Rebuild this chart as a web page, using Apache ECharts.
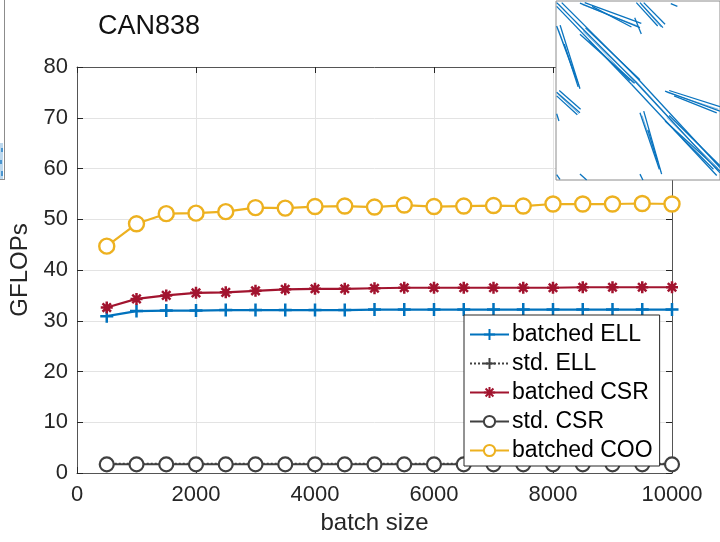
<!DOCTYPE html>
<html>
<head>
<meta charset="utf-8">
<script src="https://cdn.jsdelivr.net/npm/echarts@6/dist/echarts.min.js"></script>
<style>
html,body{margin:0;padding:0;background:#fff;}
#chart{width:720px;height:542px;}
</style>
</head>
<body>
<div id="chart"></div>
<script>
const batchSizes = [500,1000,1500,2000,2500,3000,3500,4000,4500,5000,5500,6000,6500,7000,7500,8000,8500,9000,9500,10000];
const batchedELL = [30.9,31.9,32.0,32.0,32.1,32.1,32.1,32.1,32.1,32.2,32.2,32.2,32.2,32.2,32.2,32.2,32.2,32.2,32.2,32.2];
const stdELL     = [1.8,1.8,1.8,1.8,1.8,1.8,1.8,1.8,1.8,1.8,1.8,1.8,1.8,1.8,1.8,1.8,1.8,1.8,1.8,1.8];
const batchedCSR = [32.6,34.3,35.0,35.5,35.6,35.9,36.2,36.3,36.3,36.4,36.5,36.5,36.5,36.5,36.5,36.5,36.6,36.6,36.6,36.6];
const stdCSR     = [1.7,1.7,1.7,1.7,1.7,1.7,1.7,1.7,1.7,1.7,1.7,1.7,1.7,1.7,1.7,1.7,1.7,1.7,1.7,1.7];
const batchedCOO = [44.7,49.1,51.1,51.2,51.5,52.3,52.2,52.5,52.6,52.4,52.8,52.5,52.6,52.7,52.6,53.0,53.0,53.0,53.1,53.0];
const xTicks = [0,2000,4000,6000,8000,10000];
const yTicks = [0,10,20,30,40,50,60,70,80];

// sparsity pattern inset: segments in normalized matrix coordinates [x1,y1,x2,y2]
const insetSegments = [
  [0.4,0.9,48,44.7],[3.5,0.9,49.5,43],[0.4,3,46,46.5],
  [14.6,1.2,51.2,14.9],[17.5,0.9,52,12.5],[22,3,46,14.5],
  [0.4,14,13,45],[2.5,13.5,14.6,49],[5,24,13.5,48],
  [14.6,18.6,48,46],[18,15,51.2,44],[20,22,45,44.5],
  [51.2,0.9,65.2,14.9],[53.5,0.9,66.5,13],[49,0.9,62,14],[48,9.3,52,18.4],[70,1.5,74,3],
  [0.4,51,14.6,62.4],[0.4,53,13,63.5],[2,50,15,60.5],[0.4,63,1.8,67],[0.4,97,2.4,99.7],[14.6,96.7,18.7,100],
  [48,44.7,100,96],[49.5,43,100,93],[46,46.5,98,97.5],
  [66.5,50.3,100,61.5],[69,50,100,59],[72,53,98,62.5],
  [51.2,62.4,63,94],[53.5,61.5,64.4,96.7],[56,72,62,90],
  [66.5,67,100,95],[69,64,100,92],[72,72,96,94],
  [51.2,96.7,53,100]
];
// fainter companion strokes of the pattern bands
const insetFaint = [
  [1.5,1.5,47,46],[16,2,50,14],[1.5,16,14,47],[16.5,17,49.5,45.5],
  [52,2,64,14.5],[1,52,14,63],[49,45,99,95],[67.5,51,99,60.5],
  [52.5,64,64,95.5],[67.5,65,99,93.5]
];

const FONT = 'Liberation Sans, Arial, sans-serif';
const AX = '#262626';
const plusSym = 'path://M0,-10L0,10M-10,0L10,0';
const starSym = 'path://M0,-10L0,10M-10,0L10,0M-7,-7L7,7M-7,7L7,-7';

function pairs(ys){ return batchSizes.map((x,i)=>[x,ys[i]]); }
const plain = v => String(v);

const chart = echarts.init(document.getElementById('chart'), null, {renderer:'canvas'});
chart.setOption({
  animation:false,
  backgroundColor:'#fff',
  title:{text:'CAN838',left:93,top:8,textStyle:{fontFamily:FONT,fontSize:27,fontWeight:'normal',color:'#111'}},
  grid:[
    {left:77,top:67,right:48,bottom:69,show:false},
    {left:556,top:1,width:164,height:179,show:true,backgroundColor:'#fff',borderColor:'#8c8c8c',borderWidth:1,z:5}
  ],
  legend:{
    left:464,top:315,orient:'vertical',
    itemWidth:39,itemHeight:14,itemGap:6,
    padding:[8,7,4,5],
    backgroundColor:'#fff',borderColor:AX,borderWidth:1,borderRadius:0,
    textStyle:{fontFamily:FONT,fontSize:23,color:'#000',lineHeight:22,padding:[0,0,0,-2]},
    data:['batched ELL','std. ELL','batched CSR','std. CSR','batched COO'],
    z:8
  },
  xAxis:[
    {type:'value',gridIndex:0,min:0,max:10000,interval:2000,
     name:'batch size',nameLocation:'middle',nameGap:37,
     nameTextStyle:{fontFamily:FONT,fontSize:24,color:AX},
     axisLine:{show:true,onZero:false,lineStyle:{color:'#555',width:1}},
     axisTick:{show:true,inside:true,length:6,lineStyle:{color:AX}},
     axisLabel:{fontFamily:FONT,fontSize:22,color:AX,margin:11,formatter:plain},
     splitLine:{show:true,lineStyle:{color:'#e3e3e3',width:1}}},
    {type:'value',gridIndex:0,position:'top',min:0,max:10000,interval:2000,
     axisLine:{show:true,onZero:false,lineStyle:{color:'#555',width:1}},
     axisTick:{show:true,inside:true,length:6,lineStyle:{color:AX}},
     axisLabel:{show:false},splitLine:{show:false}},
    {type:'value',gridIndex:1,min:0,max:100,show:false}
  ],
  yAxis:[
    {type:'value',gridIndex:0,min:0,max:80,interval:10,
     name:'GFLOPs',nameLocation:'middle',nameGap:35,
     nameTextStyle:{fontFamily:FONT,fontSize:24,color:AX},
     axisLine:{show:true,onZero:false,lineStyle:{color:'#555',width:1}},
     axisTick:{show:true,inside:true,length:6,lineStyle:{color:AX}},
     axisLabel:{fontFamily:FONT,fontSize:22,color:AX,margin:9,formatter:plain},
     splitLine:{show:true,lineStyle:{color:'#e3e3e3',width:1}}},
    {type:'value',gridIndex:0,position:'right',min:0,max:80,interval:10,
     axisLine:{show:true,onZero:false,lineStyle:{color:'#555',width:1}},
     axisTick:{show:true,inside:true,length:6,lineStyle:{color:AX}},
     axisLabel:{show:false},splitLine:{show:false}},
    {type:'value',gridIndex:1,min:0,max:100,inverse:true,show:false}
  ],
  series:[
    {name:'batched ELL',type:'line',xAxisIndex:0,yAxisIndex:0,data:pairs(batchedELL),
     symbol:plusSym,symbolSize:13,showAllSymbol:true,
     lineStyle:{color:'#0072BD',width:2.2},
     itemStyle:{color:'#0072BD',borderColor:'#0072BD',borderWidth:2.5},z:3},
    {name:'std. ELL',type:'line',xAxisIndex:0,yAxisIndex:0,data:pairs(stdELL),
     symbol:plusSym,symbolSize:13,showAllSymbol:true,
     lineStyle:{color:'#404040',width:2,type:'dotted'},
     itemStyle:{color:'#404040',borderColor:'#404040',borderWidth:2.5},z:3},
    {name:'batched CSR',type:'line',xAxisIndex:0,yAxisIndex:0,data:pairs(batchedCSR),
     symbol:starSym,symbolSize:12,showAllSymbol:true,
     lineStyle:{color:'#A2142F',width:2.2},
     itemStyle:{color:'#A2142F',borderColor:'#A2142F',borderWidth:2.5},z:3},
    {name:'std. CSR',type:'line',xAxisIndex:0,yAxisIndex:0,data:pairs(stdCSR),
     symbol:'circle',symbolSize:14,showAllSymbol:true,
     lineStyle:{color:'#404040',width:2},
     itemStyle:{color:'#fff',borderColor:'#404040',borderWidth:2.2},z:3},
    {name:'batched COO',type:'line',xAxisIndex:0,yAxisIndex:0,data:pairs(batchedCOO),
     symbol:'circle',symbolSize:15,showAllSymbol:true,
     lineStyle:{color:'#EDB120',width:2.2},
     itemStyle:{color:'#fff',borderColor:'#EDB120',borderWidth:2.4},z:3},
    {name:'patternFaint',type:'lines',coordinateSystem:'cartesian2d',xAxisIndex:2,yAxisIndex:2,
     data:insetFaint.map(s=>({coords:[[s[0],s[1]],[s[2],s[3]]]})),
     lineStyle:{color:'#7db5e0',width:1,opacity:1},z:6,silent:true},
    {name:'pattern',type:'lines',coordinateSystem:'cartesian2d',xAxisIndex:2,yAxisIndex:2,
     data:insetSegments.map(s=>({coords:[[s[0],s[1]],[s[2],s[3]]]})),
     lineStyle:{color:'#0a74bf',width:1.3,opacity:1},z:7,silent:true}
  ],
  graphic:[
    {type:'line',shape:{x1:4.5,y1:0,x2:4.5,y2:180},style:{stroke:'#8c8c8c',lineWidth:1},z:10},
    {type:'line',shape:{x1:0,y1:179.5,x2:4.5,y2:179.5},style:{stroke:'#8c8c8c',lineWidth:1},z:10},
    {type:'rect',shape:{x:0,y:143,width:3,height:36},style:{fill:'#bcd8ee'},z:10},
    {type:'rect',shape:{x:1,y:148,width:2,height:4},style:{fill:'#4a95cf'},z:11},
    {type:'rect',shape:{x:0,y:160,width:2,height:4},style:{fill:'#4a95cf'},z:11},
    {type:'rect',shape:{x:1,y:171,width:2,height:5},style:{fill:'#4a95cf'},z:11}
  ]
});
</script>
</body>
</html>
